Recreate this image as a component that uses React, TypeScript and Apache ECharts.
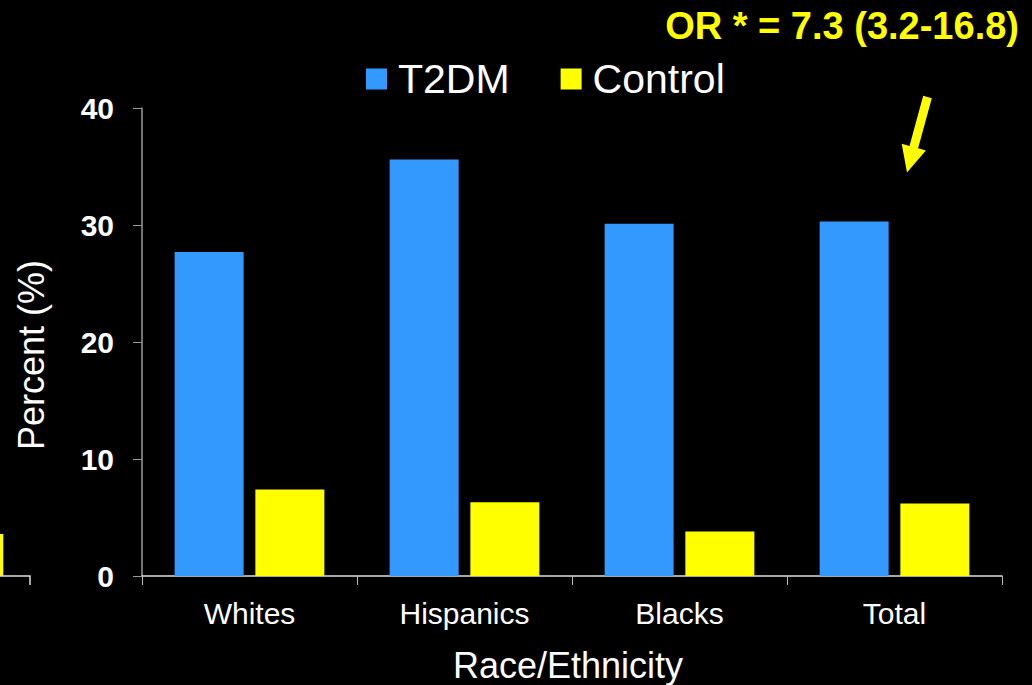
import React, { useEffect, useRef } from "react";
import * as echarts from "echarts";

const categories = ["Whites", "Hispanics", "Blacks", "Total"];
const t2dmValues = [27.7, 35.6, 30.1, 30.3];
const controlValues = [7.4, 6.3, 3.8, 6.2];
const seriesNames = ["T2DM", "Control"];
const yTicks = { min: 0, max: 40, interval: 10 };
const oddsRatioText = "OR * = 7.3 (3.2-16.8)";
const xAxisTitle = "Race/Ethnicity";
const yAxisTitle = "Percent (%)";

const FONT = "'Liberation Sans', Arial, sans-serif";
const BLUE = "#3399FF";
const YELLOW = "#FFFF00";

export default function App() {
  const ref = useRef<HTMLDivElement>(null);

  useEffect(() => {
    if (!ref.current) return;
    const chart = echarts.init(ref.current, null, { renderer: "svg" });

    chart.setOption({
      animation: false,
      backgroundColor: "#000000",
      grid: { left: 142, right: 30, top: 108, bottom: 109 },
      legend: {
        data: seriesNames,
        left: 361,
        top: 53,
        icon: "rect",
        itemWidth: 21,
        itemHeight: 21,
        itemGap: 51,
        textStyle: {
          color: "#ffffff",
          fontFamily: FONT,
          fontSize: 41,
          lineHeight: 42,
          padding: [0, 0, 0, 6],
        },
      },
      xAxis: {
        type: "category",
        data: categories,
        axisLine: { lineStyle: { color: "#e0e0e0", width: 1.5 } },
        axisTick: { show: true, length: 9, lineStyle: { color: "#bbbbbb" } },
        axisLabel: {
          color: "#ffffff",
          fontFamily: FONT,
          fontSize: 30,
          margin: 22,
        },
      },
      yAxis: {
        type: "value",
        min: yTicks.min,
        max: yTicks.max,
        interval: yTicks.interval,
        splitLine: { show: false },
        axisLine: { show: true, lineStyle: { color: "#999999", width: 1.5 } },
        axisTick: { show: true, length: 9, lineStyle: { color: "#999999" } },
        axisLabel: {
          color: "#ffffff",
          fontFamily: FONT,
          fontWeight: "bold",
          fontSize: 30,
          margin: 28,
        },
      },
      series: [
        {
          name: seriesNames[0],
          type: "bar",
          data: t2dmValues,
          barWidth: 69,
          barGap: "17%",
          itemStyle: { color: BLUE },
        },
        {
          name: seriesNames[1],
          type: "bar",
          data: controlValues,
          barWidth: 69,
          barGap: "17%",
          itemStyle: { color: YELLOW },
        },
      ],
      graphic: [
        {
          type: "text",
          x: 1019,
          y: 26,
          style: {
            text: oddsRatioText,
            fill: YELLOW,
            font: `bold 38px ${FONT}`,
            align: "right",
            verticalAlign: "middle",
          },
        },
        {
          // pointer toward the Total group
          type: "polygon",
          shape: {
            points: [
              [923.2, 95.8],
              [931.8, 98.2],
              [918.1, 148.3],
              [925.9, 150.4],
              [907, 172.5],
              [901.7, 143.8],
              [909.5, 145.9],
            ],
          },
          style: { fill: YELLOW },
        },
        {
          type: "text",
          x: 568,
          y: 665,
          style: {
            text: xAxisTitle,
            fill: "#ffffff",
            font: `36px ${FONT}`,
            align: "center",
            verticalAlign: "middle",
          },
        },
        {
          type: "text",
          x: 31,
          y: 355,
          rotation: Math.PI / 2,
          style: {
            text: yAxisTitle,
            fill: "#ffffff",
            font: `36px ${FONT}`,
            align: "center",
            verticalAlign: "middle",
          },
        },
        {
          // sliver of a neighbouring panel at the left edge
          type: "rect",
          shape: { x: 0, y: 534, width: 3.3, height: 42 },
          style: { fill: YELLOW },
        },
        {
          type: "polyline",
          shape: {
            points: [
              [0, 576],
              [30, 576],
              [30, 585],
            ],
          },
          style: { stroke: "#e0e0e0", lineWidth: 1.5, fill: "none" },
        },
      ],
    });

    return () => chart.dispose();
  }, []);

  return (
    <div
      ref={ref}
      style={{
        position: "absolute",
        left: 0,
        top: 0,
        width: 1032,
        height: 685,
        background: "#000000",
      }}
    />
  );
}
